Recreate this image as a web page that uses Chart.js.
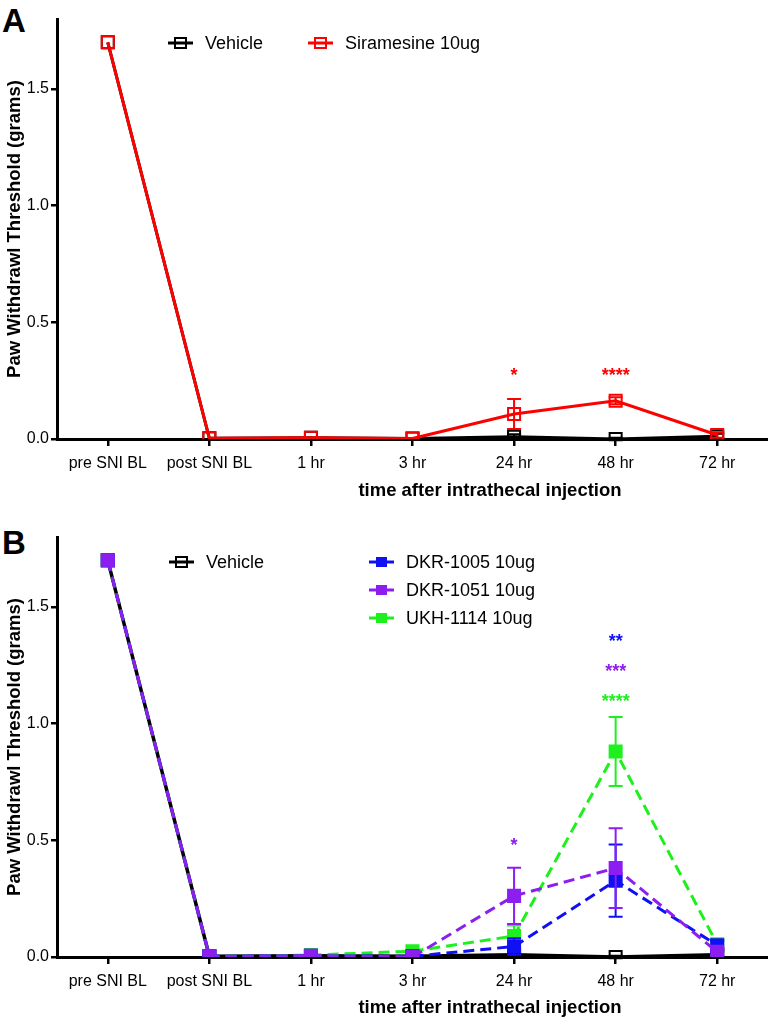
<!doctype html>
<html>
<head>
<meta charset="utf-8">
<title>Paw withdrawal threshold</title>
<script src="https://cdn.jsdelivr.net/npm/chart.js@4.4.1/dist/chart.umd.min.js"></script>
<style>
  html, body { margin: 0; padding: 0; background: #ffffff; }
  body { width: 768px; height: 1020px; position: relative; overflow: hidden; font-family: "Liberation Sans", Arial, Helvetica, sans-serif; }
  canvas { position: absolute; left: 0; }
  #chartA { top: 0; }
  #chartB { top: 500px; }
  .panel { position: absolute; left: 2px; font-size: 33px; font-weight: bold; line-height: 1; color: #000; }
  .xtitle { position: absolute; left: 490px; transform: translateX(-50%); font-size: 18.5px; font-weight: bold; line-height: 1; white-space: nowrap; color: #000; }
</style>
</head>
<body>
  <div class="panel" style="top:4px">A</div>
  <div class="panel" style="top:526px">B</div>
  <canvas id="chartA" width="768" height="500"></canvas>
  <canvas id="chartB" width="768" height="520"></canvas>
  <div class="xtitle" style="top:481px">time after intrathecal injection</div>
  <div class="xtitle" style="top:998px">time after intrathecal injection</div>

<script>
// time points (x categories)
const categories = ['pre SNI BL', 'post SNI BL', '1 hr', '3 hr', '24 hr', '48 hr', '72 hr'];
const yTicks = [0, 0.5, 1.0, 1.5];

// panel A
const vehicleA = [1.7, 0.003, 0.005, 0.002, 0.01, 0.0, 0.012];
const vehicleAErr = [0, 0, 0, 0, 0.01, 0.005, 0.01];
const siramesine = [1.7, 0.003, 0.005, 0.002, 0.107, 0.164, 0.017];
const siramesineErr = [0, 0, 0, 0, 0.064, 0.015, 0.012];
const starTextA = ['*', '****'];
const starCatA = ['24 hr', '48 hr'];
const starValA = [0.287, 0.287];

// panel B
const vehicleB = [1.7, 0.003, 0.005, 0.003, 0.01, 0.0, 0.01];
const vehicleBErr = [0, 0, 0, 0, 0.01, 0.005, 0.01];
const dkr1005 = [1.7, 0.003, 0.005, 0.003, 0.045, 0.327, 0.05];
const dkr1005Err = [0, 0, 0, 0.002, 0.035, 0.155, 0.02];
const dkr1051 = [1.7, 0.003, 0.005, 0.0, 0.262, 0.381, 0.022];
const dkr1051Err = [0, 0, 0, 0, 0.121, 0.171, 0.015];
const ukh1114 = [1.7, 0.003, 0.008, 0.025, 0.09, 0.881, 0.055];
const ukh1114Err = [0, 0, 0, 0.005, 0.045, 0.148, 0.02];
const starTextB = ['**', '***', '****', '*'];
const starCatB = ['48 hr', '48 hr', '48 hr', '24 hr'];
const starValB = [1.367, 1.239, 1.110, 0.493];

const RED = '#ff0000';
const BLUE = '#1010f5';
const PURPLE = '#8c1ef0';
const GREEN = '#1ef01e';
const FONT = '"Liberation Sans", Arial, Helvetica, sans-serif';
Chart.defaults.font.family = FONT;
Chart.defaults.color = '#000';

// error bars drawn right after each dataset so stacking order is kept
const errorBars = {
  id: 'errorBars',
  afterDatasetDraw(chart, args) {
    const ds = chart.data.datasets[args.index];
    if (!ds.errors) return;
    const y = chart.scales.y;
    const ctx = chart.ctx;
    ctx.save();
    ctx.strokeStyle = ds.borderColor;
    ctx.lineWidth = 2;
    args.meta.data.forEach((pt, i) => {
      const e = ds.errors[i];
      if (!e) return;
      const top = y.getPixelForValue(ds.data[i] + e);
      const bot = y.getPixelForValue(ds.data[i] - e);
      ctx.beginPath();
      ctx.moveTo(pt.x, top); ctx.lineTo(pt.x, bot);
      ctx.moveTo(pt.x - 7, top); ctx.lineTo(pt.x + 7, top);
      ctx.moveTo(pt.x - 7, bot); ctx.lineTo(pt.x + 7, bot);
      ctx.stroke();
    });
    ctx.restore();
  }
};

const stars = {
  id: 'stars',
  afterDatasetsDraw(chart, args, opts) {
    const ctx = chart.ctx;
    ctx.save();
    ctx.font = 'bold 18px ' + FONT;
    ctx.textAlign = 'center';
    ctx.textBaseline = 'middle';
    opts.text.forEach((t, i) => {
      ctx.fillStyle = opts.colors[i];
      const x = chart.scales.x.getPixelForValue(categories.indexOf(opts.cats[i]));
      const yy = chart.scales.y.getPixelForValue(opts.vals[i]) + 4;
      ctx.fillText(t, x, yy);
    });
    ctx.restore();
  }
};

const legendBox = {
  id: 'legendBox',
  afterDraw(chart, args, opts) {
    const ctx = chart.ctx;
    ctx.save();
    opts.items.forEach(it => {
      ctx.strokeStyle = it.color;
      ctx.fillStyle = it.color;
      ctx.lineWidth = 3;
      ctx.beginPath();
      ctx.moveTo(it.x, it.y); ctx.lineTo(it.x + 25, it.y);
      ctx.stroke();
      if (it.filled) {
        ctx.fillRect(it.x + 7, it.y - 5, 11, 10);
      } else {
        ctx.lineWidth = 2;
        ctx.strokeRect(it.x + 7, it.y - 5, 11, 10);
      }
      ctx.fillStyle = '#000';
      ctx.font = '18px ' + FONT;
      ctx.textBaseline = 'middle';
      ctx.fillText(it.label, it.x + 37, it.y + 1);
    });
    ctx.restore();
  }
};

function scales(xHeight) {
  return {
    x: {
      type: 'category',
      offset: true,
      grid: { drawOnChartArea: false, tickLength: 7, color: '#000', lineWidth: 2.5 },
      border: { color: '#000', width: 3 },
      ticks: { font: { size: 16 }, color: '#000', padding: 8, maxRotation: 0, autoSkip: false },
      afterFit: s => { s.height = xHeight; }
    },
    y: {
      min: 0,
      max: 1.8,
      afterBuildTicks: s => { s.ticks = yTicks.map(v => ({ value: v })); },
      grid: { drawOnChartArea: false, tickLength: 6, color: '#000', lineWidth: 2.5 },
      border: { color: '#000', width: 3 },
      ticks: { font: { size: 16 }, color: '#000', padding: 2, callback: v => Number(v).toFixed(1) },
      title: { display: true, text: 'Paw Withdrawl Threshold (grams)', font: { size: 18.5, weight: 'bold' }, color: '#000', padding: { top: 4, bottom: 0 } },
      afterFit: s => { s.width = 57; }
    }
  };
}

function line(label, data, errors, color, opts) {
  return Object.assign({
    label, data, errors,
    borderColor: color,
    backgroundColor: color,
    borderWidth: 3,
    pointStyle: 'rect',
    pointRadius: 8.5,
    pointBorderWidth: 2,
    pointBorderColor: color,
    tension: 0
  }, opts);
}

new Chart(document.getElementById('chartA'), {
  type: 'line',
  data: {
    labels: categories,
    datasets: [
      line('Siramesine 10ug', siramesine, siramesineErr, RED, { pointBackgroundColor: 'rgba(0,0,0,0)', order: 1 }),
      line('Vehicle', vehicleA, vehicleAErr, '#000', { pointBackgroundColor: 'rgba(0,0,0,0)', borderWidth: 3, order: 2 })
    ]
  },
  options: {
    responsive: false,
    animation: false,
    layout: { autoPadding: false, padding: { top: 19, right: 0, left: 0, bottom: 0 } },
    scales: scales(61),
    plugins: {
      legend: { display: false },
      tooltip: { enabled: false },
      stars: { text: starTextA, cats: starCatA, vals: starValA, colors: [RED, RED] },
      legendBox: { items: [
        { label: 'Vehicle', color: '#000', filled: false, x: 168, y: 43 },
        { label: 'Siramesine 10ug', color: RED, filled: false, x: 308, y: 43 }
      ] }
    }
  },
  plugins: [errorBars, stars, legendBox]
});

new Chart(document.getElementById('chartB'), {
  type: 'line',
  data: {
    labels: categories,
    datasets: [
      line('DKR-1051 10ug', dkr1051, dkr1051Err, PURPLE, { borderDash: [11, 6], order: 1 }),
      line('DKR-1005 10ug', dkr1005, dkr1005Err, BLUE, { borderDash: [11, 6], order: 2 }),
      line('UKH-1114 10ug', ukh1114, ukh1114Err, GREEN, { borderDash: [11, 6], order: 3 }),
      line('Vehicle', vehicleB, vehicleBErr, '#000', { pointBackgroundColor: 'rgba(0,0,0,0)', borderWidth: 3.5, order: 4 })
    ]
  },
  options: {
    responsive: false,
    animation: false,
    layout: { autoPadding: false, padding: { top: 37, right: 0, left: 0, bottom: 0 } },
    scales: scales(63),
    plugins: {
      legend: { display: false },
      tooltip: { enabled: false },
      stars: { text: starTextB, cats: starCatB, vals: starValB, colors: [BLUE, PURPLE, GREEN, PURPLE] },
      legendBox: { items: [
        { label: 'Vehicle', color: '#000', filled: false, x: 169, y: 62 },
        { label: 'DKR-1005 10ug', color: BLUE, filled: true, x: 369, y: 62 },
        { label: 'DKR-1051 10ug', color: PURPLE, filled: true, x: 369, y: 90 },
        { label: 'UKH-1114 10ug', color: GREEN, filled: true, x: 369, y: 118 }
      ] }
    }
  },
  plugins: [errorBars, stars, legendBox]
});
</script>
</body>
</html>
